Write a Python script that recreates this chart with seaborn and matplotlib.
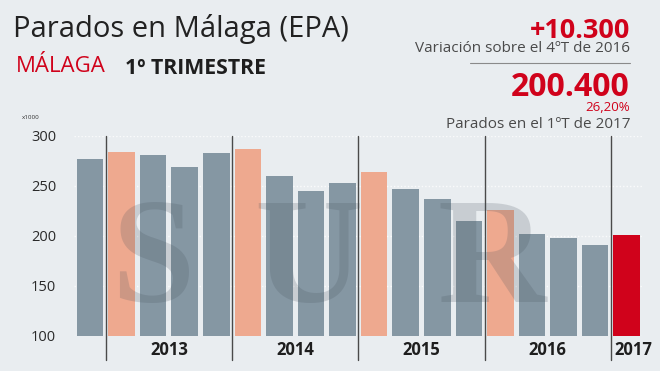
import matplotlib
matplotlib.use("Agg")
import matplotlib.pyplot as plt
import seaborn as sns
import pandas as pd

periods = ["2012T4", "2013T1", "2013T2", "2013T3", "2013T4",
           "2014T1", "2014T2", "2014T3", "2014T4",
           "2015T1", "2015T2", "2015T3", "2015T4",
           "2016T1", "2016T2", "2016T3", "2016T4", "2017T1"]
parados = [277, 283.5, 280.5, 268.5, 283, 286.5, 259.5, 245, 252.5,
           264, 246.5, 236.5, 214.5, 226, 202, 198, 190.1, 200.4]
kind = ["otro", "T1", "otro", "otro", "otro", "T1", "otro", "otro", "otro",
        "T1", "otro", "otro", "otro", "T1", "otro", "otro", "otro", "actual"]
years = ["2013", "2014", "2015", "2016", "2017"]
year_pos = [2.5, 6.5, 10.5, 14.5, 17.2]
dividers = [0.5, 4.5, 8.5, 12.5, 16.5]
yticks = [100, 150, 200, 250, 300]

BG = "#e9edf0"
palette = {"otro": "#8597a3", "T1": "#eea98f", "actual": "#d0021b"}

sns.set_theme(style="white")
plt.rcParams["font.family"] = ["Open Sans", "DejaVu Sans"]

df = pd.DataFrame({"periodo": periods, "parados": parados, "tipo": kind})

fig = plt.figure(figsize=(6.6, 3.71), dpi=100)
fig.patch.set_facecolor(BG)
W, H = 660, 371
left_px, right_px = 74.2, 642.5
bot_px, top_px = 335.5, 135.5
ax = fig.add_axes([left_px / W, (H - bot_px) / H, (right_px - left_px) / W, (bot_px - top_px) / H])
ax.set_facecolor(BG)

for t in yticks:
    ax.axhline(t, color="white", lw=1.0, ls=(0, (1, 1.5)), alpha=0.8, zorder=0)

sns.barplot(data=df, x="periodo", y="parados", hue="tipo", palette=palette,
            dodge=False, width=0.845, legend=False, ax=ax, zorder=2,
            saturation=1, linewidth=0, edgecolor="none")

ax.set_xlim(-0.5, 17.5)
ax.set_ylim(100, 300)
ax.set_xticks([])
ax.set_yticks(yticks)
ax.set_yticklabels([str(t) for t in yticks], fontsize=10.5, color="#2a2a2a")
ax.tick_params(axis="y", length=0, pad=31)
for lab in ax.get_yticklabels():
    lab.set_horizontalalignment("left")
ax.set_xlabel("")
ax.set_ylabel("")
for s in ax.spines.values():
    s.set_visible(False)

# Watermark "SUR"
for ch, xc in zip("SUR", [153, 308, 492]):
    fig.text(xc / W, 1 - 302 / H, ch, fontsize=108, family="Liberation Serif",
             fontweight="bold", color="#46515c", alpha=0.2, ha="center",
             va="baseline", zorder=5)

for d in dividers:
    ax.axvline(d, ymin=-0.1225, ymax=1.0, color="#4a4a4a", lw=1.0, clip_on=False, zorder=4)

for y, p in zip(years, year_pos):
    ax.text(p, 85.5, y, fontsize=12, fontweight="bold", color="#1e1e1e",
            ha="center", va="center", clip_on=False)

fig.text(22 / W, 1 - 117 / H, "x1000", fontsize=4.5, color="#333333", va="center")

# Titles
fig.text(13 / W, 1 - 29 / H, "Parados en Málaga (EPA)", fontsize=21,
         color="#222222", va="center", ha="left")
fig.text(16 / W, 1 - 67 / H, "MÁLAGA", fontsize=16, color="#d0021b",
         va="center", ha="left")
fig.text(125 / W, 1 - 68 / H, "1º TRIMESTRE", fontsize=15.3, fontweight="bold",
         color="#1e1e1e", va="center", ha="left")

RX = 630 / W
fig.text(RX, 1 - 37.5 / H, "+10.300", fontsize=19.5, fontweight="bold", color="#d0021b",
         va="baseline", ha="right")
fig.text(RX, 1 - 49 / H, "Variación sobre el 4ºT de 2016", fontsize=11, color="#4a4a4a",
         va="center", ha="right")
fig.add_artist(plt.Line2D([470 / W, RX], [1 - 62.7 / H, 1 - 62.7 / H],
                          color="#8a8a8a", lw=0.8))
fig.text(RX, 1 - 96 / H, "200.400", fontsize=23, fontweight="bold", color="#d0021b",
         va="baseline", ha="right")
fig.text(RX, 1 - 111 / H, "26,20%", fontsize=9.5, color="#d0021b",
         va="baseline", ha="right")
fig.text(RX, 1 - 124 / H, "Parados en el 1ºT de 2017", fontsize=11, color="#4a4a4a",
         va="center", ha="right")

fig.savefig("out.png", dpi=100, facecolor=BG)
